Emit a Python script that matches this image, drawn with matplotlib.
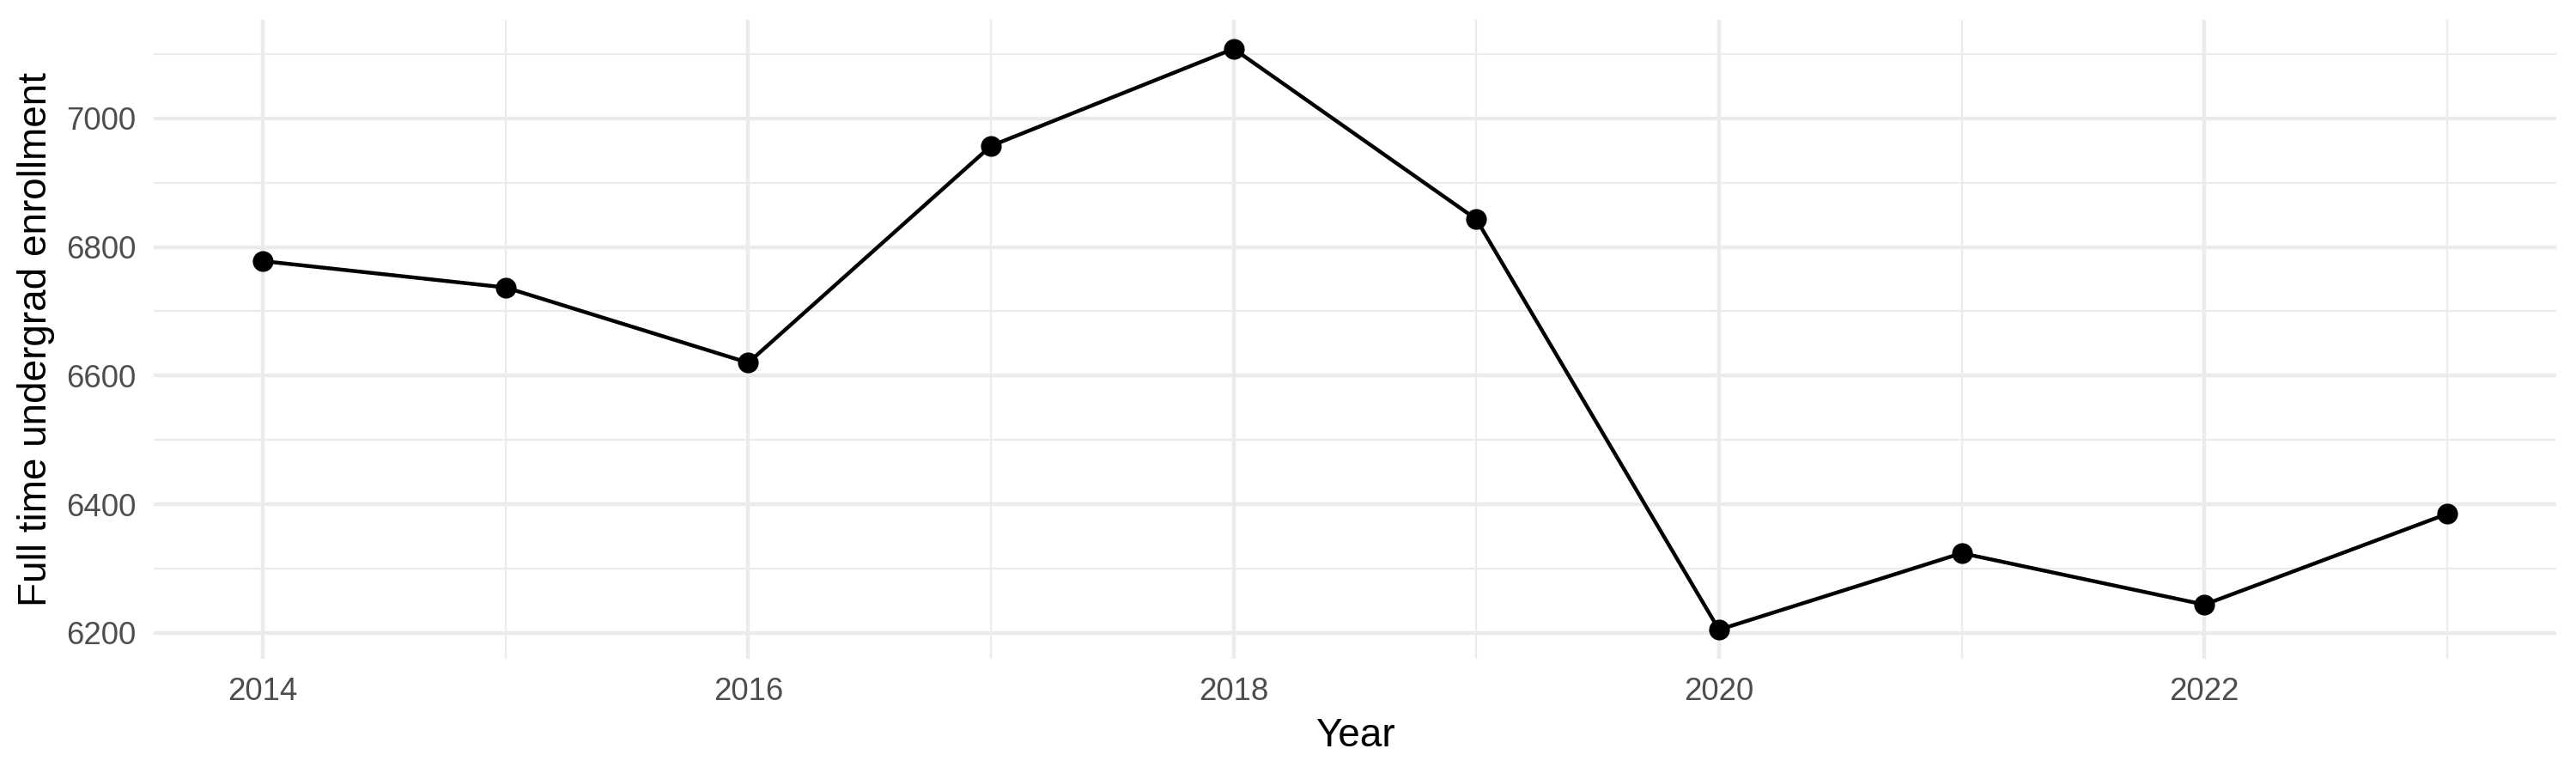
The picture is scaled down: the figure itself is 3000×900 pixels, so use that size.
import matplotlib
matplotlib.use("Agg")
import matplotlib.pyplot as plt
from matplotlib.ticker import MultipleLocator

years = [2014, 2015, 2016, 2017, 2018, 2019, 2020, 2021, 2022, 2023]
enrollment = [6778, 6737, 6620, 6957, 7108, 6843, 6205, 6324, 6244, 6385]
x_major = [2014, 2016, 2018, 2020, 2022]
y_major = [6200, 6400, 6600, 6800, 7000]

plt.rcParams['font.family'] = ['Liberation Sans', 'DejaVu Sans']

fig = plt.figure(figsize=(10, 3), dpi=300)
ax = fig.add_axes([179 / 3000, 1 - 767 / 900, 2798 / 3000, 744 / 900])

ax.plot(years, enrollment, color='black', linewidth=1.07, zorder=3)
ax.plot(years, enrollment, 'o', color='black', markersize=4.8, zorder=4)

ax.margins(x=0.05, y=0.05)
ax.set_xticks(x_major)
ax.set_yticks(y_major)
ax.xaxis.set_minor_locator(MultipleLocator(1))
ax.yaxis.set_minor_locator(MultipleLocator(100))

ax.grid(which='major', color='#EBEBEB', linewidth=1.07, zorder=0)
ax.grid(which='minor', color='#EBEBEB', linewidth=0.53, zorder=0)
ax.set_axisbelow(True)
for s in ax.spines.values():
    s.set_visible(False)
ax.tick_params(which='both', length=0)
ax.tick_params(axis='both', labelsize=8.8, labelcolor='#4D4D4D')
ax.tick_params(axis='x', pad=5)
ax.tick_params(axis='y', pad=5)

ax.set_xlabel('Year', fontsize=11, labelpad=3)
ax.set_ylabel('Full time undergrad enrollment', fontsize=11, labelpad=3)

fig.savefig('out.png', dpi=300, facecolor='white')
